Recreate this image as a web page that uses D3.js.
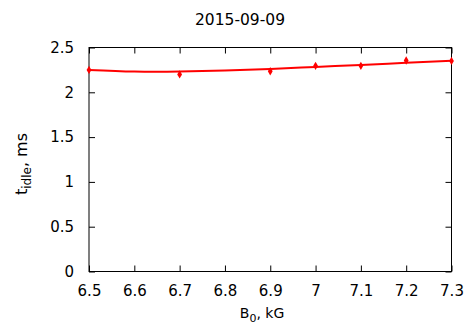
<!DOCTYPE html>
<html><head><meta charset="utf-8">
<script src="https://cdn.jsdelivr.net/npm/d3@7"></script>
<style>body{margin:0;background:#fff}svg{display:block;font-family:"DejaVu Sans",sans-serif}</style>
</head><body><svg id="c" width="467" height="324"></svg>
<script>
const title = "2015-09-09";
const fieldKG = [6.5, 6.7, 6.9, 7.0, 7.1, 7.2, 7.3];
const tIdle = [2.25, 2.2, 2.235, 2.295, 2.295, 2.355, 2.35];
const fitX = [6.5, 6.6, 6.7, 6.8, 6.9, 7.0, 7.1, 7.2, 7.3];
const fitY = [2.25, 2.232, 2.232, 2.243, 2.26, 2.283, 2.305, 2.33, 2.352];
const xTicks = [6.5, 6.6, 6.7, 6.8, 6.9, 7.0, 7.1, 7.2, 7.3];
const yTicks = [0, 0.5, 1, 1.5, 2, 2.5];

const svg = d3.select("#c");
const L = 89, R = 451.5, T = 47.5, B = 271.5;
const x = d3.scaleLinear().domain([6.5, 7.3]).range([L, R]);
const y = d3.scaleLinear().domain([0, 2.5]).range([B, T]);

svg.append("rect").attr("x", L).attr("y", T).attr("width", R - L).attr("height", B - T)
  .attr("fill", "none").attr("stroke", "#000").attr("stroke-width", 1);

const fmt = d => d3.format("")(+d.toFixed(1));
const tick = 6;
svg.append("g").attr("transform", `translate(0,${B})`)
  .call(d3.axisBottom(x).tickValues(xTicks).tickSize(-tick).tickPadding(tick + 8).tickFormat(fmt))
  .call(g => { g.select(".domain").remove(); g.selectAll("text").attr("font-size", 15).attr("font-family", "DejaVu Sans").attr("fill", "#000"); });
svg.append("g").attr("transform", `translate(0,${T})`)
  .call(d3.axisTop(x).tickValues(xTicks).tickSize(-tick).tickFormat(""))
  .call(g => g.select(".domain").remove());
svg.append("g").attr("transform", `translate(${L},0)`)
  .call(d3.axisLeft(y).tickValues(yTicks).tickSize(-tick).tickPadding(tick + 9).tickFormat(d => d3.format("")(d)))
  .call(g => { g.select(".domain").remove(); g.selectAll("text").attr("font-size", 15).attr("font-family", "DejaVu Sans").attr("fill", "#000"); });
svg.append("g").attr("transform", `translate(${R},0)`)
  .call(d3.axisRight(y).tickValues(yTicks).tickSize(-tick).tickFormat(""))
  .call(g => g.select(".domain").remove());
svg.selectAll(".tick line").attr("stroke", "#000");

svg.append("path").datum(fitX.map((v, i) => [v, fitY[i]]))
  .attr("d", d3.line().x(d => x(d[0])).y(d => y(d[1])).curve(d3.curveNatural))
  .attr("fill", "none").attr("stroke", "#ff0000").attr("stroke-width", 2);

svg.append("g").selectAll("path").data(fieldKG.map((v, i) => [v, tIdle[i]])).join("path")
  .attr("transform", d => `translate(${x(d[0])},${y(d[1])})`)
  .attr("d", d3.symbol(d3.symbolDiamond, 20))
  .attr("fill", "#ff0000");

svg.append("text").attr("x", 240).attr("y", 25).attr("text-anchor", "middle")
  .attr("font-size", 15.5).text(title);

const xl = svg.append("text").attr("x", 262).attr("y", 318).attr("text-anchor", "middle").attr("font-size", 14);
xl.append("tspan").text("B");
xl.append("tspan").attr("dy", 4).attr("font-size", 11).text("0");
xl.append("tspan").attr("dy", -4).text(", kG");

const yl = svg.append("text").attr("transform", "translate(27,164) rotate(-90)").attr("text-anchor", "middle").attr("font-size", 16);
yl.append("tspan").text("t");
yl.append("tspan").attr("dy", 4).attr("font-size", 12).text("idle");
yl.append("tspan").attr("dy", -4).text(", ms");
</script></body></html>
